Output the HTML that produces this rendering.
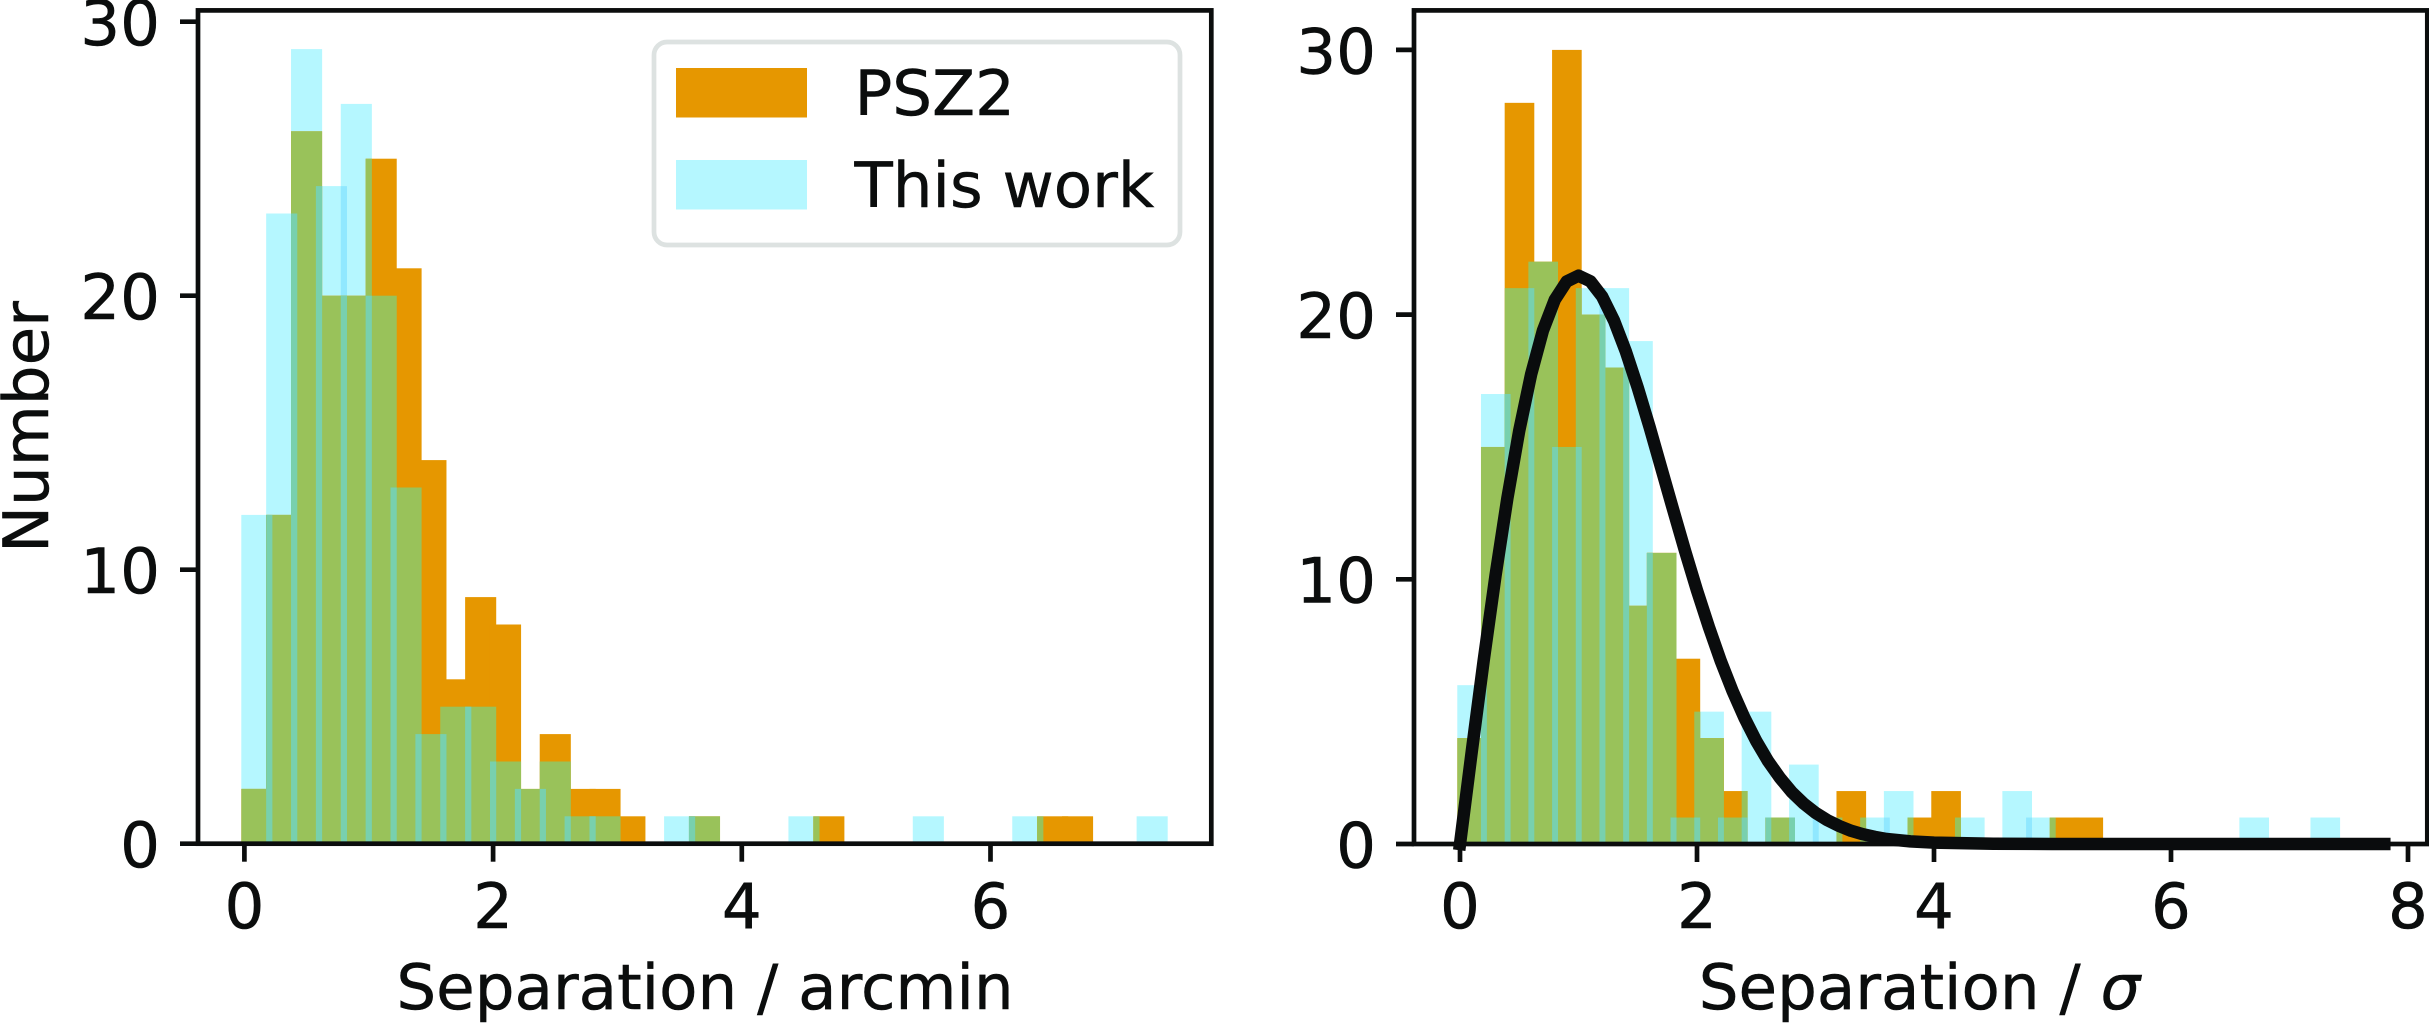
<!DOCTYPE html>
<html lang="en">
<head>
<meta charset="utf-8">
<title>Separation histograms</title>
<style>
html,body{margin:0;padding:0;background:#fff;width:2429px;height:1023px;overflow:hidden}
svg{display:block}
text{font-family:"DejaVu Sans","Liberation Sans",sans-serif;font-size:62.7px;fill:#0b0d0d;stroke:#0b0d0d;stroke-width:0.5px}
</style>
</head>
<body>
<svg id="chart" xmlns="http://www.w3.org/2000/svg" width="2429" height="1023" viewBox="0 0 2429 1023">
  <defs id="defs"></defs>
  <g id="left-panel"></g>
  <g id="right-panel"></g>
  <text x="705" y="1009" text-anchor="middle">Separation / arcmin</text>
  <text x="1919.5" y="1009" text-anchor="middle">Separation / <tspan font-style="italic">σ</tspan></text>
  <text transform="translate(48,427) rotate(-90)" text-anchor="middle">Number</text>
  <g>
    <rect x="654" y="42" width="526" height="203" rx="13" ry="13" fill="#fff" stroke="#dde2e1" stroke-width="4.7"></rect>
    <rect x="676" y="68" width="131" height="49.5" fill="#e69700"></rect>
    <text x="854.5" y="115">PSZ2</text>
    <rect x="676" y="160" width="131" height="49.5" fill="#b5f7ff"></rect>
    <text x="854.5" y="207">This work</text>
  </g>
</svg>
<script>
// Histogram counts per 0.2-wide bin
const leftPsz2 = [2,12,26,20,20,25,21,14,6,9,8,2,4,2,2,1,0,0,1,0,0,0,0,1,0,0,0,0,0,0,0,0,1,1,0,0,0];
const leftThisWork = [12,23,29,24,27,20,13,4,5,5,3,2,3,1,1,0,0,1,1,0,0,0,1,0,0,0,0,1,0,0,0,1,0,0,0,0,1];
const rightPsz2 = [4,15,28,22,30,20,18,9,11,7,4,2,0,1,0,0,2,0,0,1,2,0,0,0,0,1,1,0,0,0,0,0,0,0,0,0,0];
const rightThisWork = [6,17,21,22,15,21,21,19,11,1,5,1,5,1,3,1,0,1,2,0,0,1,0,2,1,0,0,0,0,0,0,0,0,1,0,0,1];
// Black curve on the sigma panel
const curveX = [0,0.1,0.2,0.3,0.4,0.5,0.6,0.7,0.8,0.9,1,1.1,1.2,1.3,1.4,1.5,1.6,1.7,1.8,1.9,2,2.1,2.2,2.3,2.4,2.5,2.6,2.7,2.8,2.9,3,3.1,3.2,3.3,3.4,3.5,3.6,3.8,4,4.5,5,6,7,7.8];
const curveY = [0,3.52,6.94,10.15,13.07,15.62,17.74,19.4,20.56,21.25,21.47,21.26,20.68,19.77,18.6,17.24,15.75,14.18,12.61,11.06,9.58,8.2,6.92,5.78,4.77,3.89,3.13,2.5,1.96,1.53,1.18,0.9,0.68,0.5,0.37,0.27,0.19,0.1,0.05,0.01,0,0,0,0];
// Tick labels
const leftXTicks = [0,2,4,6];
const rightXTicks = [0,2,4,6,8];
const leftYTicks = [0,10,20,30];
const rightYTicks = [0,10,20,30];

const SVGNS = 'http://www.w3.org/2000/svg';
const xLeft = v => 244.4 + v * 124.35;
const yLeft = v => 843.7 - v * 27.4;
const xRight = v => 1460 + v * 118.5;
const yRight = v => 844 - v * 26.47;
const BIN = 0.2;
const BAR_FACTOR = 1.25;
const SPINE = 4.7;

function mk(tag, attrs, parent) {
  const el = document.createElementNS(SVGNS, tag);
  for (const k in attrs) el.setAttribute(k, attrs[k]);
  parent.appendChild(el);
  return el;
}

function drawPanel(panel, id, x, y, origin, orange, cyan, box, xTicks, yTicks) {
  const bw = x(BIN) - x(0);
  const barW = bw * BAR_FACTOR;
  const left = i => x(origin + i * BIN);
  const bottom = y(0);

  // This work on white
  const cyanG = mk('g', {fill: '#b5f7ff'}, panel);
  
  
  cyan.forEach((c, i) => {
    if (!c) return;
    const r = mk('rect', {x: left(i), y: y(c), width: barW, height: bottom - y(c)}, cyanG);
    
    
  });
  // Strips where neighbouring This work bars overlap
  const stripG = mk('g', {fill: '#90e8ff'}, panel);
  
  
  cyan.forEach((c, i) => {
    const h = Math.min(c, cyan[i + 1] || 0);
    if (!h) return;
    const r = mk('rect', {x: left(i + 1), y: y(h), width: barW - bw, height: bottom - y(h)}, stripG);
    
    
  });

  // PSZ2 bars
  const defs = document.getElementById('defs');
  const clip = mk('clipPath', {id: id + '-clip'}, defs);
  const orangeG = mk('g', {fill: '#e69700'}, panel);
  
  
  orange.forEach((c, i) => {
    if (!c) return;
    const a = {x: left(i), y: y(c), width: barW, height: bottom - y(c)};
    const r = mk('rect', a, orangeG);
    
    
    mk('rect', a, clip);
  });

  // Overlap of the two histograms
  const overlapG = mk('g', {'clip-path': 'url(#' + id + '-clip)'}, panel);
  
  
  cyan.forEach((c, i) => {
    if (!c) return;
    const r = mk('rect', {x: left(i), y: y(c), width: barW, height: bottom - y(c), fill: '#99c25a'}, overlapG);
    
    
  });
  cyan.forEach((c, i) => {
    const h = Math.min(c, cyan[i + 1] || 0);
    if (!h) return;
    const r = mk('rect', {x: left(i + 1), y: y(h), width: barW - bw, height: bottom - y(h), fill: '#78d0ae'}, overlapG);
    
    
  });

  // Frame
  const frame = mk('rect', {x: box[0], y: box[1], width: box[2] - box[0], height: box[3] - box[1], fill: 'none', stroke: '#0b0d0d', 'stroke-width': SPINE}, panel);
  
  

  // X ticks
  xTicks.forEach(t => {
    const l = mk('line', {x1: x(t), x2: x(t), y1: box[3], y2: box[3] + 18, stroke: '#0b0d0d', 'stroke-width': SPINE}, panel);
    
    
    const s = mk('text', {x: x(t), y: 928, 'text-anchor': 'middle'}, panel);
    
    
    s.textContent = t;
  });

  // Y ticks
  yTicks.forEach(t => {
    const l = mk('line', {x1: box[0] - 18, x2: box[0], y1: y(t), y2: y(t), stroke: '#0b0d0d', 'stroke-width': SPINE}, panel);
    
    
    const s = mk('text', {x: box[0] - 38, y: y(t) + 23.4, 'text-anchor': 'end'}, panel);
    
    
    s.textContent = t;
  });
}

drawPanel(document.getElementById('left-panel'), 'left', xLeft, yLeft, -0.025, leftPsz2, leftThisWork, [198, 10.4, 1211.3, 843.7], leftXTicks, leftYTicks);
const rightPanel = document.getElementById('right-panel');
drawPanel(rightPanel, 'right', xRight, yRight, -0.023, rightPsz2, rightThisWork, [1414, 10.4, 2427.3, 844], rightXTicks, rightYTicks);

// Rayleigh-like curve
const curve = mk('polyline', {
  points: curveX.map((v, i) => xRight(v) + ',' + yRight(curveY[i])).join(' '),
  fill: 'none', stroke: '#0a0c0d', 'stroke-width': 12.5, 'stroke-linejoin': 'round', 'stroke-linecap': 'square'
}, rightPanel);


</script>
</body>
</html>
